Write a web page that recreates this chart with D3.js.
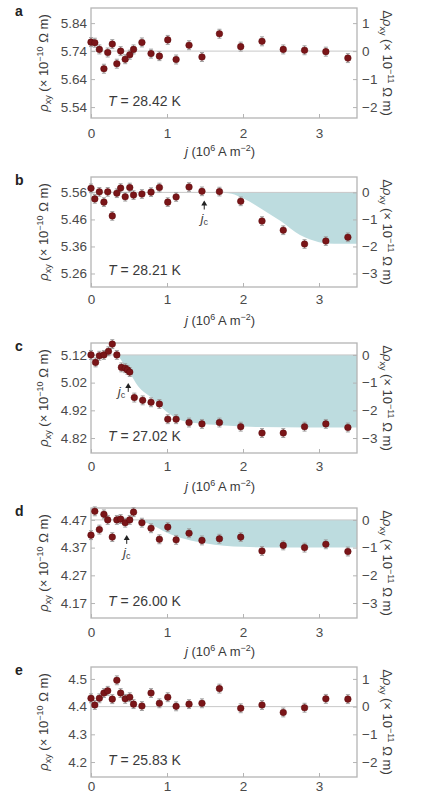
<!DOCTYPE html>
<html>
<head>
<meta charset="utf-8">
<script src="https://cdn.jsdelivr.net/npm/d3@7"></script>
<style>
  body { margin: 0; background: #fff; }
  svg { display: block; font-family: "Liberation Sans", Arial, sans-serif; }
  .frame { fill: none; stroke: #b4b4b4; stroke-width: 1.3; }
  .tick text { fill: #4a4a4a; font-size: 13.5px; }
  .tick line { stroke: #b4b4b4; }
  .domain { display: none; }
</style>
</head>
<body>
<svg id="chart" width="422" height="795"></svg>
<script>
// current density j (10^6 A m^-2)
const current = [0, 0.05, 0.11, 0.17, 0.22, 0.28, 0.34, 0.39, 0.45, 0.51, 0.56, 0.67, 0.79,
  0.9, 1.01, 1.12, 1.29, 1.46, 1.69, 1.97, 2.25, 2.53, 2.81, 3.09, 3.38]
const currentC = [0, 0.06, 0.11, 0.17, 0.23, 0.28, 0.34, 0.4, 0.45, 0.48, 0.51, 0.57, 0.68,
  0.79, 0.9, 1.01, 1.12, 1.29, 1.46, 1.69, 1.97, 2.25, 2.53, 2.81, 3.09, 3.38]

// rho_xy (10^-10 Ohm m)
const rhoA = [5.772, 5.770, 5.746, 5.677, 5.735, 5.765, 5.695, 5.740, 5.711, 5.727, 5.746, 5.771,
  5.731, 5.722, 5.780, 5.710, 5.761, 5.719, 5.802, 5.756, 5.775, 5.746, 5.743, 5.738, 5.715]
const rhoB = [5.575, 5.536, 5.562, 5.524, 5.562, 5.473, 5.557, 5.576, 5.544, 5.578, 5.550, 5.554,
  5.561, 5.578, 5.524, 5.543, 5.580, 5.564, 5.563, 5.527, 5.454, 5.420, 5.369, 5.380, 5.394]
const rhoC = [5.120, 5.093, 5.117, 5.120, 5.133, 5.159, 5.120, 5.075, 5.072, 5.066, 5.058, 4.966,
  4.956, 4.949, 4.943, 4.888, 4.888, 4.876, 4.871, 4.876, 4.861, 4.838, 4.838, 4.861, 4.871, 4.858]
const rhoD = [4.415, 4.501, 4.435, 4.490, 4.470, 4.408, 4.470, 4.473, 4.460, 4.470, 4.498, 4.460,
  4.440, 4.400, 4.444, 4.398, 4.422, 4.396, 4.402, 4.408, 4.358, 4.378, 4.370, 4.382, 4.356]
const rhoE = [4.430, 4.406, 4.430, 4.449, 4.457, 4.427, 4.495, 4.449, 4.428, 4.434, 4.409, 4.402,
  4.449, 4.412, 4.434, 4.401, 4.409, 4.412, 4.465, 4.394, 4.406, 4.379, 4.396, 4.428, 4.427]
const errBar = 0.016

// shaded drop of delta rho (10^-11 Ohm m)
const fillJB = [1.69, 1.85, 2.0, 2.25, 2.5, 2.75, 3.0, 3.2, 3.5]
const fillDB = [0, -0.05, -0.22, -0.62, -1.07, -1.58, -1.84, -1.9, -1.9]
const fillJC = [0.35, 0.51, 0.62, 0.8, 0.97, 1.15, 1.4, 1.7, 2.2, 3.5]
const fillDC = [0, -0.64, -1.13, -1.55, -2.0, -2.32, -2.47, -2.54, -2.6, -2.62]
const fillJD = [0.62, 0.8, 1.0, 1.25, 1.5, 1.75, 2.0, 2.5, 3.5]
const fillDD = [0, -0.18, -0.46, -0.7, -0.84, -0.93, -0.97, -1.0, -1.0]

const xTicks = [0, 1, 2, 3]
const leftTicksA = [5.84, 5.74, 5.64, 5.54]
const leftTicksB = [5.56, 5.46, 5.36, 5.26]
const leftTicksC = [5.12, 5.02, 4.92, 4.82]
const leftTicksD = [4.47, 4.37, 4.27, 4.17]
const leftTicksE = [4.5, 4.4, 4.3, 4.2]
const rightTicksA = [1, 0, -1, -2]
const rightTicksB = [0, -1, -2, -3]
const rightTicksE = [1, 0, -1, -2]

const temps = ['28.42', '28.21', '27.02', '26.00', '25.83']
const letters = ['a', 'b', 'c', 'd', 'e']

const panels = [
  { top: 8, dom: [5.501, 5.894], ref: 5.74, j: current, rho: rhoA, lt: leftTicksA, rt: rightTicksA, fmt: '.2f', pad: 10 },
  { top: 177, dom: [5.21, 5.617], ref: 5.56, j: current, rho: rhoB, lt: leftTicksB, rt: rightTicksB, fmt: '.2f', pad: 7,
    fj: fillJB, fd: fillDB, jc: { j: 1.49, rho: 5.53, pos: 'below' } },
  { top: 343, dom: [4.766, 5.163], ref: 5.12, j: currentC, rho: rhoC, lt: leftTicksC, rt: rightTicksB, fmt: '.2f', pad: 8,
    fj: fillJC, fd: fillDC, jc: { j: 0.49, rho: 5.019, pos: 'left' } },
  { top: 508, dom: [4.116, 4.513], ref: 4.47, j: current, rho: rhoD, lt: leftTicksD, rt: rightTicksB, fmt: '.2f', pad: 9,
    fj: fillJD, fd: fillDD, jc: { j: 0.47, rho: 4.416, pos: 'below' } },
  { top: 667, dom: [4.146, 4.543], ref: 4.40, j: current, rho: rhoE, lt: leftTicksE, rt: rightTicksE, fmt: '.1f', pad: 4,
    noTitle: true }
]

const svg = d3.select('#chart')
const left = 91, right = 357, plotH = 110
const x = d3.scaleLinear().domain([0, 3.5]).range([left, right])
const minus = (s)=> s.replace('-', '\u2212')

panels.forEach((p, i)=> {
  const bottom = p.top + plotH
  const y = d3.scaleLinear().domain(p.dom).range([bottom, p.top])
  const yR = d3.scaleLinear().domain(p.dom.map((v)=> (v - p.ref) * 10)).range([bottom, p.top])
  const g = svg.append('g')

  // shaded area between zero level and the drop curve
  if(p.fj) {
    const pts = p.fj.map((jj, k)=> [jj, p.fd[k]])
    const area = d3.area()
      .x((d)=> x(d[0]))
      .y0(yR(0))
      .y1((d)=> yR(d[1]))
      .curve(d3.curveMonotoneX)
    g.append('path').attr('d', area(pts)).attr('fill', '#bddcdf')
  }

  g.append('line')
    .attr('x1', left).attr('x2', right)
    .attr('y1', y(p.ref)).attr('y2', y(p.ref))
    .attr('stroke', '#c8c8c8').attr('stroke-width', 1)

  g.append('g').attr('transform', `translate(${left},0)`)
    .call(d3.axisLeft(y).tickValues(p.lt).tickFormat(d3.format(p.fmt)).tickSizeInner(-4).tickPadding(4))
  g.append('g').attr('transform', `translate(${right},0)`)
    .call(d3.axisRight(yR).tickValues(p.rt).tickFormat((d)=> minus(String(d))).tickSizeInner(-4).tickPadding(5))
  g.append('g').attr('transform', `translate(0,${bottom})`)
    .call(d3.axisBottom(x).tickValues(xTicks).tickFormat(d3.format('d')).tickSizeInner(-4).tickPadding(p.pad))

  g.append('rect').attr('class', 'frame')
    .attr('x', left).attr('y', p.top).attr('width', right - left).attr('height', plotH)

  // error bars and points
  const pts = p.j.map((jj, k)=> ({ j: jj, r: p.rho[k] }))
  const eb = g.selectAll('.eb').data(pts).enter().append('g').attr('stroke', '#a0a0a0').attr('stroke-width', 1)
  eb.append('line')
    .attr('x1', (d)=> x(d.j)).attr('x2', (d)=> x(d.j))
    .attr('y1', (d)=> y(d.r + errBar)).attr('y2', (d)=> y(d.r - errBar))
  eb.append('line')
    .attr('x1', (d)=> x(d.j) - 2).attr('x2', (d)=> x(d.j) + 2)
    .attr('y1', (d)=> y(d.r + errBar)).attr('y2', (d)=> y(d.r + errBar))
  eb.append('line')
    .attr('x1', (d)=> x(d.j) - 2).attr('x2', (d)=> x(d.j) + 2)
    .attr('y1', (d)=> y(d.r - errBar)).attr('y2', (d)=> y(d.r - errBar))
  g.selectAll('.pt').data(pts).enter().append('circle')
    .attr('cx', (d)=> x(d.j)).attr('cy', (d)=> y(d.r)).attr('r', 3.3)
    .attr('fill', '#7a1518').attr('stroke', '#5a0c0e').attr('stroke-width', 0.5)

  // critical current arrow
  if(p.jc) {
    const ax = x(p.jc.j), ay = y(p.jc.rho)
    g.append('line').attr('x1', ax).attr('x2', ax).attr('y1', ay + 3).attr('y2', ay + 9)
      .attr('stroke', '#222').attr('stroke-width', 1)
    g.append('path').attr('d', `M${ax},${ay} L${ax - 3},${ay + 5} L${ax + 3},${ay + 5} Z`).attr('fill', '#222')
    const t = g.append('text').attr('font-size', 13.5).attr('fill', '#444')
      .attr('text-anchor', p.jc.pos === 'left' ? 'end' : 'middle')
      .attr('x', p.jc.pos === 'left' ? ax - 3 : ax)
      .attr('y', p.jc.pos === 'left' ? ay + 13 : ay + 22)
    t.append('tspan').attr('font-style', 'italic').text('j')
    t.append('tspan').attr('font-size', 9).attr('dy', 2).text('c')
  }

  // temperature label
  const tl = g.append('text').attr('x', 108).attr('y', bottom - 12).attr('font-size', 14).attr('fill', '#3a3a3a')
  tl.append('tspan').attr('font-style', 'italic').text('T')
  tl.append('tspan').text(` = ${temps[i]} K`)

  // panel letter
  g.append('text').attr('x', 15).attr('y', p.top + 8).attr('font-size', 14).attr('font-weight', 'bold')
    .attr('fill', '#222').text(letters[i])

  // left axis title
  const cy = p.top + plotH / 2
  const lt = g.append('text').attr('transform', `translate(48,${cy}) rotate(-90)`)
    .attr('text-anchor', 'middle').attr('font-size', 13).attr('fill', '#3a3a3a')
  lt.append('tspan').attr('font-style', 'italic').text('\u03c1')
  lt.append('tspan').attr('font-size', 9).attr('dy', 3).text('xy')
  lt.append('tspan').attr('dy', -3).text(' (\u00d7 10')
  lt.append('tspan').attr('font-size', 9).attr('dy', -5).text('\u221210')
  lt.append('tspan').attr('dy', 5).text(' \u03a9 m)')

  // right axis title
  const rt = g.append('text').attr('transform', `translate(383,${cy}) rotate(90)`)
    .attr('text-anchor', 'middle').attr('font-size', 13).attr('fill', '#3a3a3a')
  rt.append('tspan').text('\u0394')
  rt.append('tspan').attr('font-style', 'italic').text('\u03c1')
  rt.append('tspan').attr('font-size', 9).attr('dy', 3).text('xy')
  rt.append('tspan').attr('dy', -3).text(' (\u00d7 10')
  rt.append('tspan').attr('font-size', 9).attr('dy', -5).text('\u221211')
  rt.append('tspan').attr('dy', 5).text(' \u03a9 m)')

  // x axis title (the last one falls below the picture)
  if(p.noTitle) return
  const xt = g.append('text').attr('x', (left + right) / 2 - 4).attr('y', bottom + 38)
    .attr('text-anchor', 'middle').attr('font-size', 13).attr('fill', '#3a3a3a')
  xt.append('tspan').attr('font-style', 'italic').text('j')
  xt.append('tspan').text(' (10')
  xt.append('tspan').attr('font-size', 9).attr('dy', -5).text('6')
  xt.append('tspan').attr('dy', 5).text(' A m')
  xt.append('tspan').attr('font-size', 9).attr('dy', -5).text('\u22122')
  xt.append('tspan').attr('dy', 5).text(')')
})
</script>
</body>
</html>
